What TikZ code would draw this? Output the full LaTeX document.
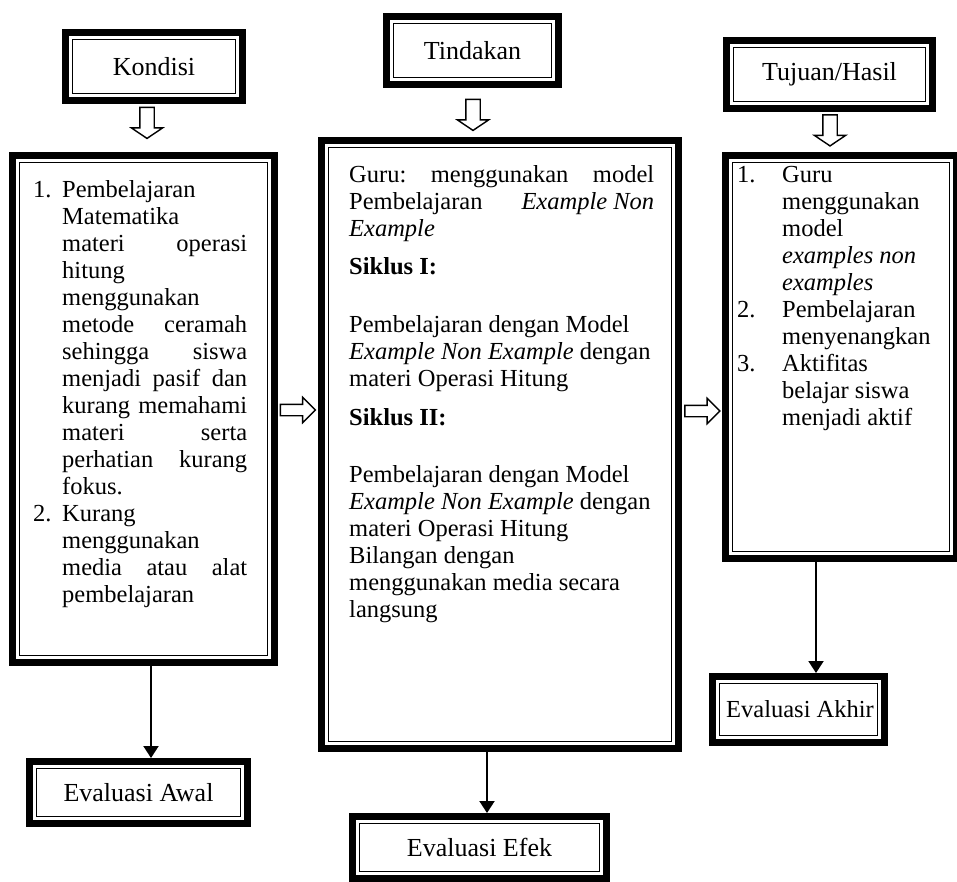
\documentclass[tikz,border=0pt]{standalone}
\usepackage{fontspec}
\setmainfont{Liberation Serif}
\usepackage{tikz}
\usetikzlibrary{shapes.arrows,positioning,calc,arrows.meta}

\newcommand{\bodyfont}{\fontsize{24.5}{27}\selectfont}
\newcommand{\labelfont}{\fontsize{26}{30}\selectfont}
\newcommand{\smalllabelfont}{\fontsize{24.5}{27}\selectfont}

\begin{document}
\begin{tikzpicture}[
    x=1pt, y=-1pt,
    dbox/.style={
        draw, line width=7pt, inner sep=0pt,
        path picture={
            \draw[line width=1.6pt]
                ([shift={(7pt,-7pt)}]path picture bounding box.north west) rectangle
                ([shift={(-7pt,7pt)}]path picture bounding box.south east);
        }
    },
    labelbox/.style={dbox, font=\labelfont},
    txt/.style={inner sep=0pt, anchor=base west, font=\bodyfont},
    hollow/.style={single arrow, draw, fill=white, line width=1.4pt},
    downarrow/.style={hollow, shape border rotate=270, inner sep=6.5pt,
        minimum width=30pt, minimum height=31pt,
        single arrow head extend=8.5pt, single arrow tip angle=112},
    rightarrow/.style={hollow, inner sep=5pt,
        minimum width=24pt, minimum height=35pt,
        single arrow head extend=7pt, single arrow tip angle=90},
    conn/.style={-{Triangle[length=12pt,width=15pt]}, line width=2pt}
]
    \useasboundingbox (0,0) rectangle (957,881);

    % Headers
    \node[labelbox, minimum width=177pt, minimum height=68pt] (kondisi) at (154,66.5) {Kondisi};
    \node[labelbox, minimum width=172pt, minimum height=68pt] (tindakan) at (472.5,50.5) {Tindakan};
    \node[labelbox, minimum width=206pt, minimum height=68pt] (tujuan) at (829.5,74.5) {Tujuan/Hasil};

    % Hollow arrows below the headers
    \node[downarrow] (akondisi) at (147,120.5) {};
    \node[downarrow] (atindakan) at (473,112.5) {};
    \node[downarrow] (atujuan) at (830,128) {};

    % Main boxes
    \node[dbox, minimum width=262pt, minimum height=507pt] (lbox) at (143.5,409) {};
    \node[dbox, minimum width=357pt, minimum height=608pt] (mbox) at (500,444.5) {};
    \node[dbox, minimum width=231pt, minimum height=403pt] (rbox) at (841,357) {};

    % Left box text
    \node[txt] (ltext) at (33,197) {\parbox[t]{214pt}{%
        \hangindent=29pt\hangafter=1
        \makebox[29pt][l]{1.}Pembelajaran\\
        Matematika\\
        materi\hfill operasi\\
        hitung\\
        menggunakan\\
        metode\hfill ceramah\\
        sehingga\hfill siswa\\
        menjadi\hfill pasif\hfill dan\\
        kurang\hfill memahami\\
        materi\hfill serta\\
        perhatian\hfill kurang\\
        fokus.\par
        \hangindent=29pt\hangafter=1
        \makebox[29pt][l]{2.}Kurang\\
        menggunakan\\
        media\hfill atau\hfill alat\\
        pembelajaran}};

    % Middle box text
    \node[txt] (mtext) at (349,182) {\parbox[t]{305pt}{%
        Guru:\hfill menggunakan\hfill model\\
        Pembelajaran\hfill \textit{Example Non}\\
        \textit{Example}\\[11pt]
        \textbf{Siklus I:}\\[31pt]
        Pembelajaran dengan Model\\
        \textit{Example Non Example} dengan\\
        materi Operasi Hitung\\[12pt]
        \textbf{Siklus II:}\\[30pt]
        Pembelajaran dengan Model\\
        \textit{Example Non Example} dengan\\
        materi Operasi Hitung\\
        Bilangan dengan\\
        menggunakan media secara\\
        langsung}};

    % Right box text
    \node[txt] (rtext) at (737,182) {\parbox[t]{205pt}{%
        \hangindent=45pt\hangafter=1
        \makebox[45pt][l]{1.}Guru\\
        menggunakan\\
        model\\
        \textit{examples non}\\
        \textit{examples}\par
        \hangindent=45pt\hangafter=1
        \makebox[45pt][l]{2.}Pembelajaran\\
        menyenangkan\par
        \hangindent=45pt\hangafter=1
        \makebox[45pt][l]{3.}Aktifitas\\
        belajar siswa\\
        menjadi aktif}};

    % Hollow arrows between the boxes
    \node[rightarrow] (alm) at (295,410) {};
    \node[rightarrow] (amr) at (699.5,411) {};

    % Evaluation boxes
    \node[labelbox, minimum width=218pt, minimum height=62pt] (awal) at (138.5,792.5) {Evaluasi Awal};
    \node[labelbox, minimum width=254pt, minimum height=62pt] (efek) at (479.5,847.5) {Evaluasi Efek};
    \node[labelbox, font=\smalllabelfont, minimum width=172pt, minimum height=66pt] (akhir) at (798.5,709.5) {\hspace*{3pt}Evaluasi Akhir};

    % Connectors
    \draw[conn] ([xshift=7.5pt]lbox.south) -- ([xshift=7.5pt]lbox.south |- awal.north);
    \draw[conn] ([xshift=-13pt]mbox.south) -- ([xshift=-13pt]mbox.south |- efek.north);
    \draw[conn] ([xshift=-25pt]rbox.south) -- ([xshift=-25pt]rbox.south |- akhir.north);
\end{tikzpicture}
\end{document}
